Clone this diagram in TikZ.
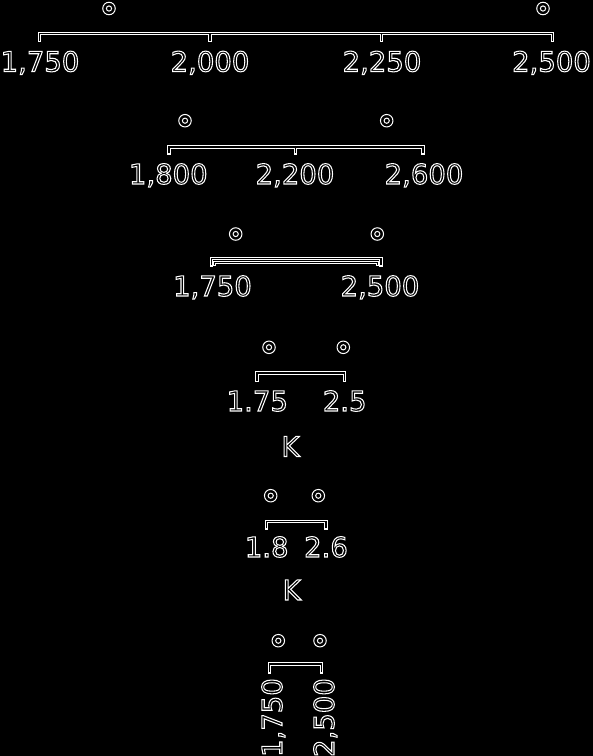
\documentclass[tikz,border=0pt]{standalone}
\usepackage{fontspec}
\setmainfont{DejaVu Sans}
\newcommand{\otx}[1]{\special{pdf:literal direct 1 Tr 1.05 w}#1\special{pdf:literal direct 0 Tr}}
\begin{document}
\begin{tikzpicture}[x=1pt,y=-1pt,
  lab/.style={text=white, font=\fontsize{27.5}{30}\selectfont, inner sep=0pt, anchor=base},
  dotm/.style={circle, draw=white, line width=1pt, minimum size=12.5pt, inner sep=0pt,
    path picture={\draw[white,line width=1pt] (path picture bounding box.center) circle[radius=2.6pt];}},
  wpass/.style={draw=white, line width=3.2pt, line cap=rect, line join=miter},
  bpass/.style={draw=black, line width=1.2pt, line cap=butt, line join=miter}]
\fill[black] (0,0) rectangle (593,756);
\useasboundingbox (0,0) rectangle (593,756);

% ---------- row 1
\node[dotm] (d1a) at (109,8.5) {};
\node[dotm] (d1b) at (543,8.5) {};
\foreach \p in {wpass,bpass}{
  \draw[\p] (39.5,40.5) -- (39.5,33.5) -- (552.8,33.5) -- (552.8,40.5);
  \draw[\p] (210,33.5) -- (210,40.5);
  \draw[\p] (381.3,33.5) -- (381.3,40.5);
}
\node[lab] (l1a) at (40,71.5) {\otx{1,750}};
\node[lab] (l1b) at (210,71.5) {\otx{2,000}};
\node[lab] (l1c) at (382,71.5) {\otx{2,250}};
\node[lab] (l1d) at (551.5,71.5) {\otx{2,500}};

% ---------- row 2
\node[dotm] (d2a) at (185,120.7) {};
\node[dotm] (d2b) at (386.7,120.7) {};
\foreach \p in {wpass,bpass}{
  \draw[\p] (168.9,153) -- (168.9,147) -- (423,147) -- (423,153);
  \draw[\p] (295.7,147) -- (295.7,153);
}
\node[lab] (l2a) at (168.3,184) {\otx{1,800}};
\node[lab] (l2b) at (295,184) {\otx{2,200}};
\node[lab] (l2c) at (424,184) {\otx{2,600}};

% ---------- row 3
\node[dotm] (d3a) at (235.7,234) {};
\node[dotm] (d3b) at (377.3,234) {};
\draw[wpass] (211.2,265.4) -- (211.2,258.6) -- (381,258.6) -- (381,265.4);
\draw[bpass] (211.2,265.4) -- (211.2,258.6) -- (381,258.6) -- (381,265.4);
\draw[wpass] (214.7,264.6) -- (214.7,262.8) -- (377.6,262.8) -- (377.6,264.6);
\draw[bpass] (214.7,264.6) -- (214.7,262.8) -- (377.6,262.8) -- (377.6,264.6);
\node[lab] (l3a) at (212.5,296) {\otx{1,750}};
\node[lab] (l3b) at (380,296) {\otx{2,500}};

% ---------- row 4
\node[dotm] (d4a) at (269,347.3) {};
\node[dotm] (d4b) at (343.3,347.3) {};
\foreach \p in {wpass,bpass}{
  \draw[\p] (257,380.5) -- (257,373) -- (344.8,373) -- (344.8,380.5);
}
\node[lab] (l4a) at (257.3,411) {\otx{1.75}};
\node[lab] (l4b) at (344.7,411) {\otx{2.5}};
\node[lab] (k4) at (290.5,456.5) {\otx{K}};

% ---------- row 5
\node[dotm] (d5a) at (270.7,495.7) {};
\node[dotm] (d5b) at (318.3,495.7) {};
\foreach \p in {wpass,bpass}{
  \draw[\p] (266.2,528) -- (266.2,521.5) -- (326,521.5) -- (326,528);
}
\node[lab] (l5a) at (266.7,557) {\otx{1.8}};
\node[lab] (l5b) at (326,557) {\otx{2.6}};
\node[lab] (k5) at (291.7,600) {\otx{K}};

% ---------- row 6
\node[dotm] (d6a) at (278.3,640.7) {};
\node[dotm] (d6b) at (320,640.7) {};
\foreach \p in {wpass,bpass}{
  \draw[\p] (269.5,672) -- (269.5,664) -- (321.5,664) -- (321.5,672);
}
\node[lab, rotate=90, anchor=base east] (l6a) at (282,678) {\otx{1,750}};
\node[lab, rotate=90, anchor=base east] (l6b) at (334,678) {\otx{2,500}};
\end{tikzpicture}
\end{document}
